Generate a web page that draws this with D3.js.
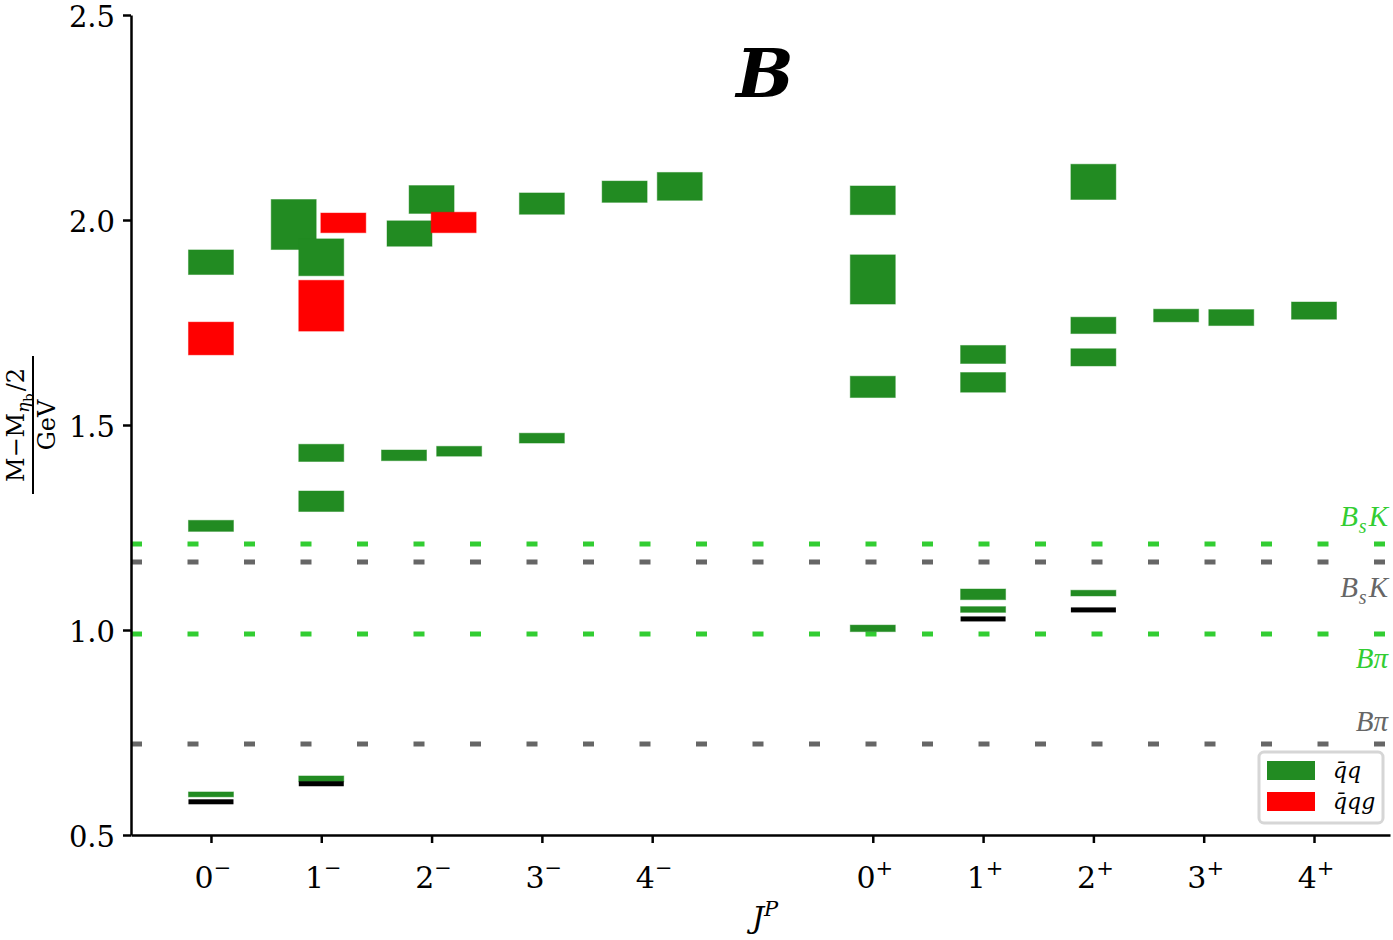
<!DOCTYPE html>
<html>
<head>
<meta charset="utf-8">
<script src="https://cdn.jsdelivr.net/npm/d3@7"></script>
<style>
  body { margin: 0; background: #fff; }
  text { font-family: "DejaVu Serif", "Liberation Serif", serif; }
</style>
</head>
<body>
<div id="chart"></div>
<script>
// J^P channels and where they sit on the x axis
var jpSpin = ["0", "1", "2", "3", "4", "0", "1", "2", "3", "4"];
var jpParity = ["−", "−", "−", "−", "−", "+", "+", "+", "+", "+"];
var jpPos = [0, 1, 2, 3, 4, 6, 7, 8, 9, 10];

// q̄q states: channel index, sideways shift, mass (GeV), half error
var qqChan  = [0, 0, 0, 1, 1, 1, 1, 1, 2, 2, 2, 2, 3, 3, 4, 4, 5, 5, 5, 5, 6, 6, 6, 6, 7, 7, 7, 7, 8, 8, 9];
var qqShift = [0, 0, 0, -0.25, 0, 0, 0, 0, 0, -0.2, -0.25, 0.25, 0, 0, -0.25, 0.25, 0, 0, 0, 0, 0, 0, 0, 0, 0, 0, 0, 0, -0.25, 0.25, 0];
var qqMass  = [1.897, 1.254, 0.599, 1.989, 1.909, 1.432, 1.314, 0.637, 2.050, 1.967, 1.426, 1.436, 2.040, 1.468, 2.069, 2.082, 2.048, 1.855, 1.593, 1.004, 1.672, 1.604, 1.087, 1.050, 2.093, 1.743, 1.665, 1.090, 1.767, 1.762, 1.779];
var qqErr   = [0.030, 0.0135, 0.006, 0.061, 0.045, 0.021, 0.025, 0.007, 0.034, 0.031, 0.013, 0.012, 0.026, 0.012, 0.026, 0.034, 0.035, 0.060, 0.026, 0.008, 0.022, 0.024, 0.013, 0.007, 0.043, 0.020, 0.021, 0.007, 0.0155, 0.0195, 0.021];

// q̄qg hybrid states
var hyChan  = [0, 1, 1, 2];
var hyShift = [0, 0, 0.2, 0.2];
var hyMass  = [1.711, 1.791, 1.993, 1.994];
var hyErr   = [0.040, 0.062, 0.024, 0.025];

// experimental levels (black)
var expChan = [0, 1, 6, 7];
var expMass = [0.581, 0.625, 1.027, 1.049];

// two-meson thresholds
var thrName = ["B_sK", "B_sK", "Bπ", "Bπ"];
var thrMass = [1.210, 1.166, 0.990, 0.722];
var thrColor = ["#32cd32", "#666666", "#32cd32", "#666666"];

var W = 1393, H = 940;
var margin = { left: 131, right: 3, top: 15, bottom: 105 };

var svg = d3.select("#chart").append("svg")
  .attr("width", W).attr("height", H);

var x = d3.scaleLinear().domain([-0.725, 10.689]).range([margin.left, W - margin.right]);
var y = d3.scaleLinear().domain([0.5, 2.5]).range([H - margin.bottom, margin.top]);
var boxW = x(0.408) - x(0);

// thresholds
thrMass.forEach(function (m, i) {
  svg.append("line")
    .attr("x1", x(-0.725)).attr("x2", x(10.689))
    .attr("y1", y(m)).attr("y2", y(m))
    .attr("stroke", thrColor[i])
    .attr("stroke-width", 5)
    .attr("stroke-dasharray", "11,45.5");
});

// threshold labels
var labY = [517, 588, 659, 722];
thrName.forEach(function (n, i) {
  var t = svg.append("text")
    .attr("x", 1388).attr("y", labY[i] + 9)
    .attr("text-anchor", "end")
    .attr("fill", thrColor[i])
    .style("font-family", "'Liberation Serif', serif")
    .style("font-size", "29px")
    .style("font-style", "italic");
  if (n === "B_sK") {
    t.append("tspan").text("B");
    t.append("tspan").attr("dy", 7).attr("dx", 1).style("font-size", "20px").text("s");
    t.append("tspan").attr("dy", -7).attr("dx", 2).text("K");
  } else {
    t.text(n);
  }
});

function drawBoxes(chan, shift, mass, err, color) {
  svg.selectAll(null)
    .data(mass)
    .enter()
    .append("rect")
      .attr("x", function (d, i) { return x(jpPos[chan[i]] + shift[i]) - boxW / 2; })
      .attr("y", function (d, i) { return y(d + err[i]); })
      .attr("width", boxW)
      .attr("height", function (d, i) { return y(d - err[i]) - y(d + err[i]); })
      .attr("fill", color)
      .attr("stroke", color)
      .attr("stroke-opacity", 0.45)
      .attr("stroke-width", 1);
}

drawBoxes(qqChan, qqShift, qqMass, qqErr, "#228b22");
drawBoxes(hyChan, hyShift, hyMass, hyErr, "#ff0000");

svg.selectAll(null)
  .data(expMass)
  .enter()
  .append("rect")
    .attr("x", function (d, i) { return x(jpPos[expChan[i]]) - boxW / 2; })
    .attr("y", function (d) { return y(d) - 2.5; })
    .attr("width", boxW)
    .attr("height", 5)
    .attr("fill", "#000");

// axes
var yAxis = d3.axisLeft(y).tickValues([0.5, 1.0, 1.5, 2.0, 2.5])
  .tickFormat(d3.format(".1f")).tickSizeInner(8).tickSizeOuter(0).tickPadding(8);
var gy = svg.append("g").attr("transform", "translate(" + margin.left + ",0)").call(yAxis);
gy.select(".domain").attr("stroke-width", 2.5);
gy.selectAll(".tick line").attr("stroke-width", 2.5);
gy.selectAll(".tick text").style("font-size", "29px").style("font-family", "'DejaVu Serif', serif")
  .attr("fill", "#000").attr("dy", "0.4em");

var xAxis = d3.axisBottom(x).tickValues(jpPos).tickFormat("").tickSizeInner(8).tickSizeOuter(0);
var gx = svg.append("g").attr("transform", "translate(0," + y(0.5) + ")").call(xAxis);
gx.select(".domain").attr("stroke-width", 2.5);
gx.selectAll(".tick line").attr("stroke-width", 2.5);

// x tick labels with parity superscripts
jpPos.forEach(function (p, i) {
  var t = svg.append("text")
    .attr("x", x(p) + 2).attr("y", 888)
    .attr("text-anchor", "middle")
    .style("font-size", "30px");
  t.append("tspan").text(jpSpin[i]);
  t.append("tspan").attr("dy", -13).style("font-size", "21px").text(jpParity[i]);
});

// x axis title
var xt = svg.append("text")
  .attr("x", 765).attr("y", 928)
  .attr("text-anchor", "middle")
  .style("font-size", "30px").style("font-style", "italic");
xt.append("tspan").text("J");
xt.append("tspan").attr("dy", -12).style("font-size", "21px").text("P");

// y axis title as a fraction
var yl = svg.append("g").attr("transform", "translate(33,425) rotate(-90)");
var num = yl.append("text").attr("x", 0).attr("y", -9)
  .attr("text-anchor", "middle").style("font-size", "24px");
num.append("tspan").text("M−M");
num.append("tspan").attr("dy", 5).style("font-size", "17px").style("font-style", "italic").text("η");
num.append("tspan").attr("dy", 4).attr("dx", 1).style("font-size", "13px").text("b");
num.append("tspan").attr("dy", -9).attr("dx", 2).text("/2");
yl.append("line").attr("x1", -69).attr("x2", 69).attr("y1", 0).attr("y2", 0)
  .attr("stroke", "#000").attr("stroke-width", 2);
yl.append("text").attr("x", 0).attr("y", 22)
  .attr("text-anchor", "middle").style("font-size", "24px").text("GeV");

// title
svg.append("text")
  .attr("x", 765).attr("y", 97)
  .attr("text-anchor", "middle")
  .style("font-size", "68px").style("font-style", "italic").style("font-weight", "bold")
  .text("B");

// legend
var lg = svg.append("g").attr("transform", "translate(1259,752)");
lg.append("rect").attr("width", 124).attr("height", 71).attr("rx", 5)
  .attr("fill", "#fff").attr("stroke", "#d6d6d6").attr("stroke-width", 3);
var legColors = ["#228b22", "#ff0000"];
var legNames = ["q̄q", "q̄qg"];
legNames.forEach(function (n, i) {
  lg.append("rect").attr("x", 8).attr("y", 9 + i * 31).attr("width", 48).attr("height", 19)
    .attr("fill", legColors[i]);
  lg.append("text").attr("x", 74).attr("y", 26 + i * 31)
    .style("font-size", "22px").style("font-style", "italic")
    .text(n);
});
</script>
</body>
</html>
